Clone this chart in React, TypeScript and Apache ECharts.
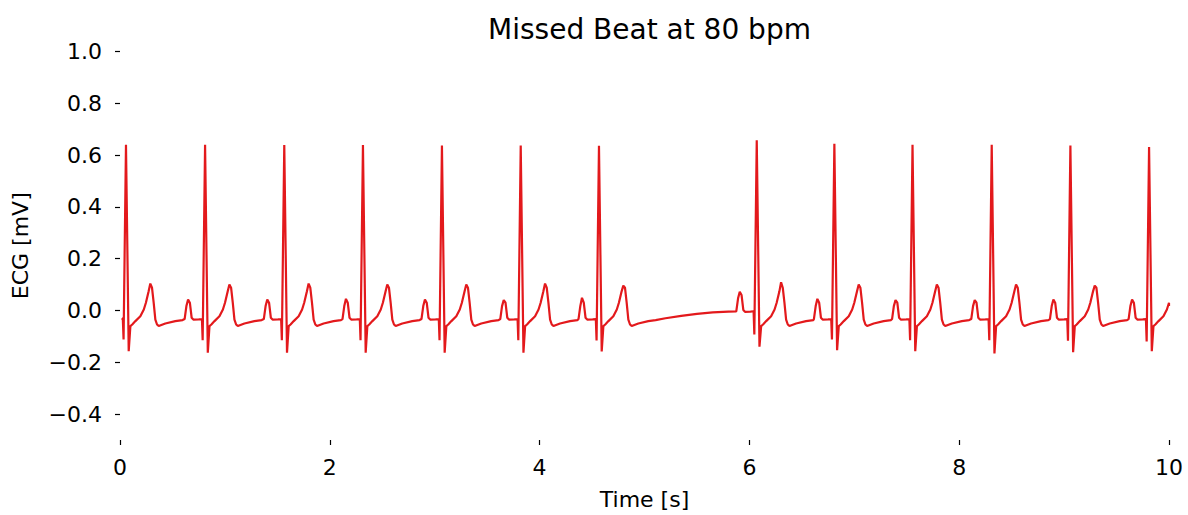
import React, { useEffect, useRef } from 'react';
import * as echarts from 'echarts';

// R-peak times (s) of the recorded beats (one beat missing near 5.3 s)
const beatTimes = [0.057, 0.811, 1.566, 2.316, 3.069, 3.82, 4.566, 6.07, 6.81, 7.555, 8.31, 9.06, 9.81];
// per-beat amplitudes (mV)
const rPeaks = [0.64, 0.64, 0.639, 0.639, 0.637, 0.637, 0.636, 0.657, 0.644, 0.64, 0.64, 0.637, 0.631];
const sDips = [-0.157, -0.163, -0.163, -0.163, -0.163, -0.163, -0.158, -0.14, -0.153, -0.157, -0.166, -0.161, -0.157];
const qDips = [-0.112, -0.115, -0.115, -0.115, -0.115, -0.115, -0.116, -0.093, -0.112, -0.115, -0.115, -0.117, -0.12];
const tPeaks = [0.104, 0.1, 0.104, 0.1, 0.1, 0.104, 0.096, 0.109, 0.1, 0.1, 0.1, 0.096, 0.1];
const pPeaks = [0.042, 0.042, 0.042, 0.045, 0.042, 0.04, 0.049, 0.072, 0.045, 0.04, 0.04, 0.042, 0.042];
const preShift = [0, 0, 0, 0, 0, 0, 0, 0.03, 0, 0, 0, 0, 0];

// beat shape, times relative to the R peak (s)
const preOffsets = [-0.195, -0.178, -0.162, -0.145, -0.128, -0.112, -0.06, -0.03, -0.023];
const preValues = [-0.033, 0.017, 0.045, 0.03, -0.028, -0.035, -0.034, -0.033, -0.112];
const postOffsets = [0, 0.026, 0.042, 0.06, 0.09, 0.137, 0.17, 0.19, 0.216, 0.232, 0.248, 0.264, 0.28, 0.296, 0.312, 0.375, 0.47, 0.54];
const postValues = [0.64, -0.16, -0.06, -0.054, -0.041, -0.022, 0.004, 0.03, 0.074, 0.104, 0.088, 0.03, -0.035, -0.054, -0.06, -0.05, -0.041, -0.037];

// baseline during the missed beat
const pauseTimes = [5.2, 5.35, 5.5, 5.65, 5.8];
const pauseValues = [-0.03, -0.021, -0.013, -0.007, -0.004];

const startPoint: [number, number] = [0.016, -0.03];
const endPoint: [number, number] = [10.0, 0.017];

const yTicks = [-0.4, -0.2, 0, 0.2, 0.4, 0.6, 0.8, 1.0];

function buildTrace(): [number, number][] {
  const pts: [number, number][] = [startPoint];
  beatTimes.forEach((r, i) => {
    preOffsets.forEach((o, k) => {
      let v = preValues[k] + preShift[i];
      if (k === 2) v = pPeaks[i];
      if (k === 8) v = qDips[i];
      pts.push([r + o, v]);
    });
    postOffsets.forEach((o, k) => {
      let v = postValues[k];
      if (k === 0) v = rPeaks[i];
      if (k === 1) v = sDips[i];
      if (k === 9) v = tPeaks[i];
      pts.push([r + o, v]);
    });
  });
  pauseTimes.forEach((t, i) => pts.push([t, pauseValues[i]]));
  pts.push(endPoint);
  return pts
    .filter((p) => p[0] >= startPoint[0] && p[0] <= endPoint[0])
    .sort((a, b) => a[0] - b[0]);
}

const FONT = 'DejaVu Sans';

export default function App() {
  const ref = useRef<HTMLDivElement>(null);
  useEffect(() => {
    if (!ref.current) return;
    const chart = echarts.init(ref.current, undefined, { renderer: 'svg' });
    chart.setOption({
      animation: false,
      backgroundColor: '#ffffff',
      title: {
        text: 'Missed Beat at 80 bpm',
        left: 644.5,
        textAlign: 'center',
        top: 10,
        textStyle: { fontFamily: FONT, fontSize: 28, fontWeight: 'normal', color: '#000' },
      },
      grid: { left: 120, right: 19, top: 51.5, bottom: 73, containLabel: false },
      xAxis: {
        type: 'value',
        min: 0,
        max: 10,
        interval: 2,
        name: 'Time [s]',
        nameLocation: 'middle',
        nameGap: 48,
        nameTextStyle: { fontFamily: FONT, fontSize: 22, color: '#000' },
        axisLine: { show: false, onZero: false },
        axisTick: { show: true, length: 5, lineStyle: { color: '#000', width: 1.2 } },
        axisLabel: { fontFamily: FONT, fontSize: 22, color: '#000', margin: 16 },
        splitLine: { show: false },
      },
      yAxis: {
        type: 'value',
        min: -0.5,
        max: 1.0,
        name: 'ECG [mV]',
        nameLocation: 'middle',
        nameGap: 89,
        nameTextStyle: { fontFamily: FONT, fontSize: 22, color: '#000' },
        axisLine: { show: false, onZero: false },
        axisTick: { show: true, length: 5, customValues: yTicks, lineStyle: { color: '#000', width: 1.2 } },
        axisLabel: {
          fontFamily: FONT,
          fontSize: 22,
          color: '#000',
          margin: 18,
          customValues: yTicks,
          formatter: (v: number) => (v < 0 ? '\u2212' + Math.abs(v).toFixed(1) : v.toFixed(1)),
        },
        splitLine: { show: false },
      },
      series: [
        {
          type: 'line',
          data: buildTrace(),
          showSymbol: false,
          smooth: false,
          lineStyle: { color: '#e3191c', width: 2.2 },
          itemStyle: { color: '#e3191c' },
        },
      ],
    });
    return () => chart.dispose();
  }, []);
  return <div ref={ref} style={{ position: 'absolute', left: 0, top: 0, width: 1188, height: 515 }} />;
}
